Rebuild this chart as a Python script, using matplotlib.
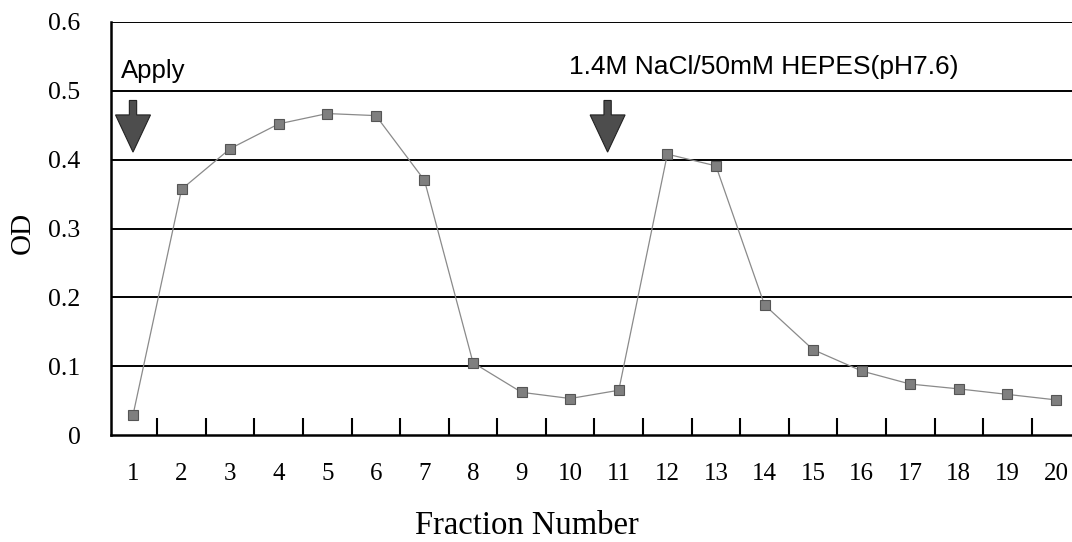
import numpy as np
import matplotlib
matplotlib.use("Agg")
import matplotlib.pyplot as plt
from matplotlib.patches import FancyArrow

# ── Data ─────────────────────────────────────────────
fractions = list(range(1, 21))
od = [0.029, 0.357, 0.416, 0.452, 0.467, 0.464, 0.370, 0.105, 0.062, 0.053,
      0.065, 0.408, 0.391, 0.189, 0.124, 0.093, 0.074, 0.067, 0.059, 0.051]
y_ticks = [0, 0.1, 0.2, 0.3, 0.4, 0.5, 0.6]
y_labels = ["0", "0.1", "0.2", "0.3", "0.4", "0.5", "0.6"]
arrow_x = [1.0, 10.77]   # Apply / elution buffer

serif = ["Liberation Serif", "DejaVu Serif"]
sans = ["Liberation Sans", "DejaVu Sans"]

fig = plt.figure(figsize=(10.72, 5.42), dpi=100)
ax = fig.add_axes([111 / 1072, 1 - 435 / 542, 1 - 111 / 1072, (435 - 22) / 542])

# ── Series ───────────────────────────────────────────
ax.plot(fractions, od, color="#8a8a8a", lw=0.9, marker="s", markersize=7,
        markerfacecolor="#7f7f7f", markeredgecolor="#555555",
        markeredgewidth=0.8, zorder=4)

# ── Arrows + labels ──────────────────────────────────
for xa in arrow_x:
    ax.add_patch(FancyArrow(xa, 0.486, 0, -0.075, width=0.15,
                            head_width=0.72, head_length=0.054,
                            length_includes_head=True,
                            facecolor="#4d4d4d", edgecolor="#222222",
                            lw=0.8, zorder=5))

ax.text(0.755, 0.529, "Apply", family=sans, fontsize=18.5,
        ha="left", va="center")
ax.text(9.98, 0.534, "1.4M NaCl/50mM HEPES(pH7.6)", family=sans,
        fontsize=19, ha="left", va="center")

# ── Axes styling ─────────────────────────────────────
ax.set_xlim(0.547, 20.33)
ax.set_ylim(0, 0.6)
for yv in y_ticks[1:]:
    ax.axhline(yv, color="black", lw=1.4, zorder=1)
ax.spines["top"].set_visible(False)
ax.spines["right"].set_visible(False)
ax.spines["left"].set_linewidth(1.8)
ax.spines["bottom"].set_linewidth(1.8)

ax.set_yticks(y_ticks)
ax.set_yticklabels(y_labels, family=serif, fontsize=18.5)
ax.tick_params(axis="y", length=0, pad=22)

ax.set_xticks(fractions)
ax.set_xticklabels([str(f) for f in fractions], family=serif, fontsize=18)
ax.set_xticks(np.arange(1.5, 20.5, 1), minor=True)
ax.tick_params(axis="x", which="major", length=0, pad=20)
ax.tick_params(axis="x", which="minor", direction="in", length=12, width=1.5)

fig.text(23 / 1072, 1 - 233 / 542, "OD", family=serif, fontsize=21,
         rotation=90, ha="center", va="center")
fig.text(527 / 1072, 1 - 526 / 542, "Fraction Number", family=serif,
         fontsize=23.5, ha="center", va="center")

fig.savefig("out.png", dpi=100, facecolor="white")
